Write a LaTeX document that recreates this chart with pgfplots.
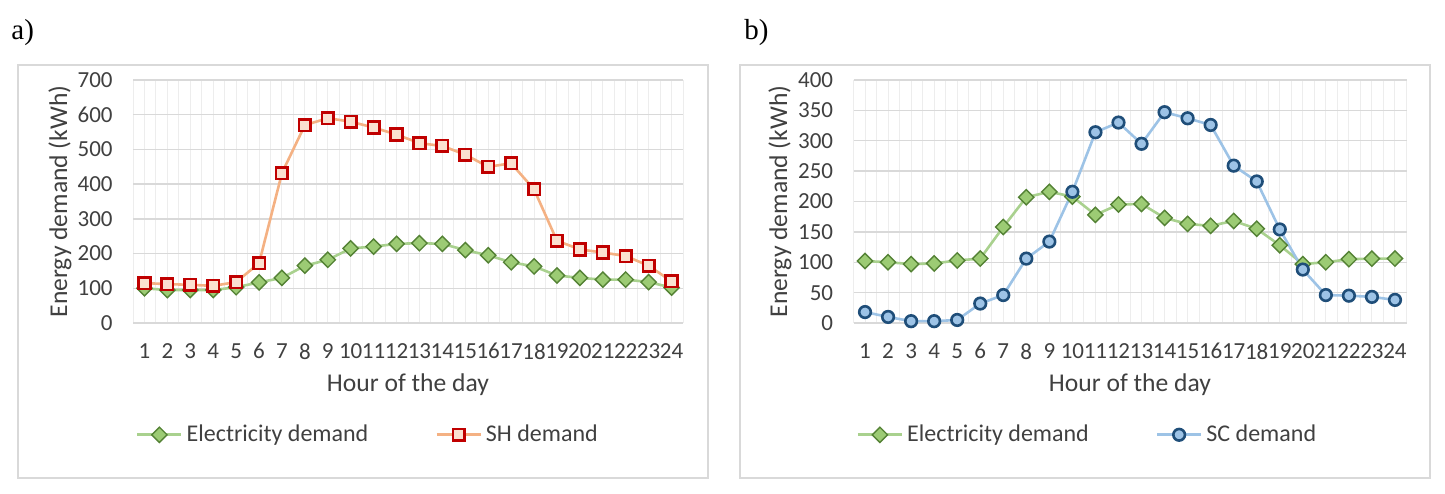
\documentclass[border=0pt]{standalone}
\usepackage{pgfplots}
\pgfplotsset{compat=1.18}
\usepackage{fontspec}
\setmainfont{Carlito}
\newfontfamily\seriffont{Liberation Serif}
\definecolor{gridc}{HTML}{D9D9D9}
\definecolor{vgridc}{HTML}{EDEDED}
\definecolor{frm}{HTML}{D9D9D9}
\definecolor{txt}{HTML}{404040}
\definecolor{gline}{HTML}{A9D18E}
\definecolor{gfill}{HTML}{9CCB74}
\definecolor{gedge}{HTML}{548235}
\definecolor{rline}{HTML}{F4B183}
\definecolor{rfill}{HTML}{FBE0D0}
\definecolor{redge}{HTML}{C00000}
\definecolor{bline}{HTML}{9DC3E6}
\definecolor{bfill}{HTML}{9DC3E6}
\definecolor{bedge}{HTML}{1F4E79}
\pgfplotsset{
  excel/.style={
    scale only axis, anchor=south west,
    width=275pt, height=121.5pt,
    xmin=0.5, xmax=24.5,
    xtick={1,...,24},
    minor xtick={0.5,1,...,24.5},
    xminorgrids=true,
    minor x grid style={vgridc, line width=0.5pt},
    ymajorgrids=true,
    major y grid style={gridc, line width=0.7pt},
    axis lines*=left,
    x axis line style={gridc, line width=0.7pt, -},
    y axis line style={draw=none},
    major tick length=0pt, minor tick length=0pt,
    tick style={draw=none},
    ymin=0,
    /pgf/number format/assume math mode=true,
    ticklabel style={font=\fontsize{11.5}{13}\selectfont, text=txt},
    xticklabel style={inner sep=0pt, yshift=-10pt},
    yticklabel style={inner sep=0pt, xshift=-10pt},
    xlabel={Hour of the day},
    every axis x label/.style={font=\fontsize{12.8}{14}\selectfont, text=txt, at={(axis description cs:0.5,-0.255)}, anchor=center},
    ylabel={Energy demand (kWh)},
    every axis y label/.style={font=\fontsize{12.8}{14}\selectfont, text=txt, at={(axis description cs:-0.133,0.5)}, anchor=center, rotate=90},
    legend columns=2,
    legend style={draw=none, fill=none, font=\fontsize{12}{14}\selectfont, text=txt,
      at={(axis description cs:-0.006,-0.46)}, anchor=west,
      /tikz/every even column/.append style={column sep=31.5pt}},
    legend cell align=left,
    legend image code/.code={\draw[mark repeat=2,mark phase=2] plot coordinates {(0pt,0pt)(11pt,0pt)(22pt,0pt)};},
    clip=false,
  },
  elec/.style={gline, line width=1.3pt, mark=square*, mark size=2.7pt, mark options={rotate=45, fill=gfill, draw=gedge, line width=0.7pt}},
  sh/.style={rline, line width=1.3pt, mark=square*, mark size=2.9pt, mark options={fill=rfill, draw=redge, line width=1.3pt}},
  sc/.style={bline, line width=1.3pt, mark=*, mark size=2.9pt, mark options={fill=bfill, draw=bedge, line width=1.3pt}},
}
\begin{document}
\begin{tikzpicture}
\useasboundingbox (0,0) rectangle (722.5pt,246.5pt);
\draw[frm, line width=0.7pt] (9pt,7.5pt) rectangle (354pt,214pt);
\draw[frm, line width=0.7pt] (370pt,7.5pt) rectangle (715pt,214pt);
\node[anchor=west, font=\seriffont\fontsize{14.5}{16}\selectfont, inner sep=0pt] at (5.5pt,230pt) {a)};
\node[anchor=west, font=\seriffont\fontsize{14.5}{16}\selectfont, inner sep=0pt] at (372pt,230pt) {b)};

\begin{axis}[excel, at={(66.5pt,85pt)}, ymax=700, ytick={0,100,...,700}]
\addplot[elec] coordinates {(1,100)(2,95)(3,95)(4,95)(5,103)(6,117)(7,130)(8,165)(9,182)(10,215)(11,220)(12,228)(13,230)(14,228)(15,210)(16,195)(17,175)(18,163)(19,137)(20,130)(21,125)(22,125)(23,118)(24,102)};
\addlegendentry{Electricity demand}
\addplot[sh] coordinates {(1,115)(2,112)(3,110)(4,107)(5,118)(6,172)(7,432)(8,570)(9,590)(10,580)(11,563)(12,543)(13,518)(14,510)(15,485)(16,450)(17,460)(18,385)(19,237)(20,212)(21,203)(22,193)(23,165)(24,120)};
\addlegendentry{SH demand}
\end{axis}

\begin{axis}[excel, at={(426.75pt,85pt)}, width=276.5pt, ymax=400, ytick={0,50,...,400}]
\addplot[elec] coordinates {(1,102)(2,100)(3,97)(4,98)(5,103)(6,106)(7,158)(8,207)(9,216)(10,208)(11,178)(12,195)(13,196)(14,173)(15,163)(16,160)(17,168)(18,155)(19,128)(20,97)(21,100)(22,105)(23,106)(24,106)};
\addlegendentry{Electricity demand}
\addplot[sc] coordinates {(1,18)(2,10)(3,3)(4,3)(5,5)(6,32)(7,46)(8,106)(9,134)(10,216)(11,314)(12,330)(13,295)(14,347)(15,337)(16,326)(17,259)(18,233)(19,154)(20,88)(21,46)(22,45)(23,43)(24,38)};
\addlegendentry{SC demand}
\end{axis}
\end{tikzpicture}
\end{document}
